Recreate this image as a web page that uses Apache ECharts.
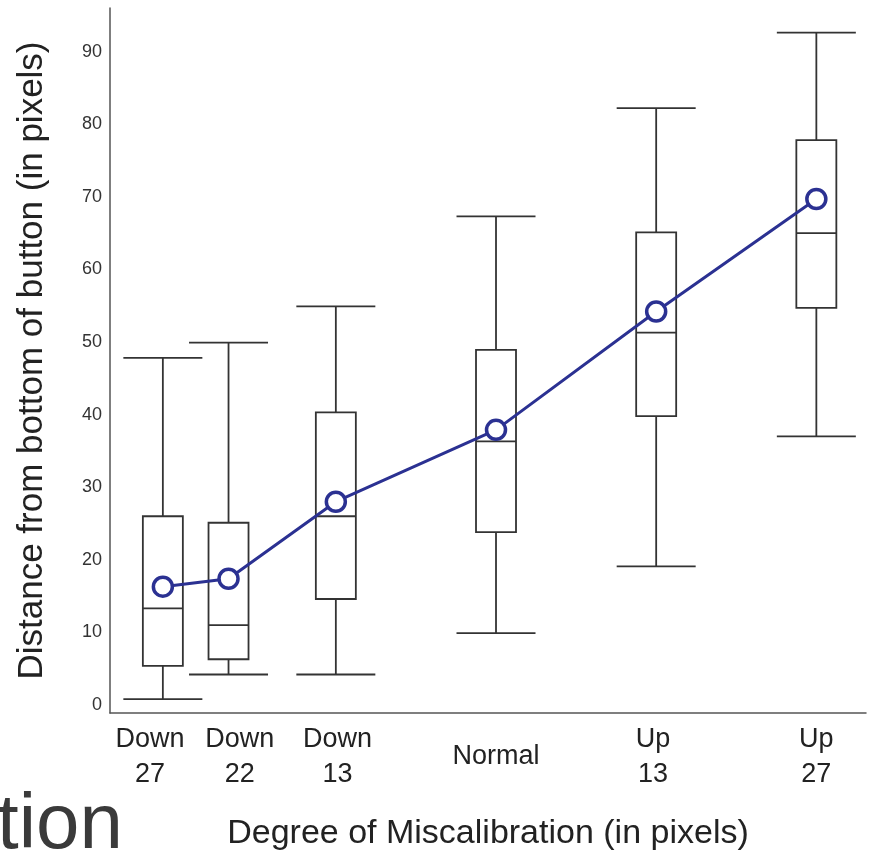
<!DOCTYPE html>
<html>
<head>
    <meta charset="UTF-8">
    <title>Miscalibration</title>
    <script src="https://cdn.jsdelivr.net/npm/echarts/dist/echarts.min.js"></script>
    <style>
        body { margin: 0; background: #fff; }
        #chart { width: 873px; height: 852px; }
    </style>
</head>
<body>
    <div id="chart"></div>
    <script>
        // categories, where each box sits and where its label sits on the x axis
        const categories = ['Down\n27', 'Down\n22', 'Down\n13', 'Normal', 'Up\n13', 'Up\n27'];
        const positions = [-2.08, -1.67, -1.0, 0, 1.0, 2.0];
        const labelPositions = [-2.16, -1.6, -0.99, 0, 0.98, 2.0];

        // box plot values
        const whiskerLow = [0.8, 4.2, 4.2, 9.9, 19.1, 37.0];
        const q1 = [5.4, 6.3, 14.6, 23.8, 39.8, 54.7];
        const median = [13.3, 11.0, 26.0, 36.3, 51.3, 65.0];
        const q3 = [26.0, 25.1, 40.3, 48.9, 65.1, 77.8];
        const whiskerHigh = [47.8, 49.9, 54.9, 67.3, 82.2, 92.6];
        const means = [16.3, 17.4, 28.0, 37.9, 54.2, 69.7];

        const yTicks = [0, 10, 20, 30, 40, 50, 60, 70, 80, 90];

        const boxData = positions.map((p, i) => [p, whiskerLow[i], q1[i], median[i], q3[i], whiskerHigh[i]]);
        const meanData = positions.map((p, i) => [p, means[i]]);

        const stroke = '#333';
        const boxHalf = 20;
        const capHalf = 39.5;

        function renderBox(params, api) {
            const x = api.value(0);
            const pLow = api.coord([x, api.value(1)]);
            const pQ1 = api.coord([x, api.value(2)]);
            const pMed = api.coord([x, api.value(3)]);
            const pQ3 = api.coord([x, api.value(4)]);
            const pHigh = api.coord([x, api.value(5)]);
            const cx = pLow[0];
            const ls = { stroke: stroke, lineWidth: 1.8 };
            return {
                type: 'group',
                children: [
                    { type: 'line', shape: { x1: cx, y1: pHigh[1], x2: cx, y2: pQ3[1] }, style: ls },
                    { type: 'line', shape: { x1: cx, y1: pQ1[1], x2: cx, y2: pLow[1] }, style: ls },
                    { type: 'line', shape: { x1: cx - capHalf, y1: pHigh[1], x2: cx + capHalf, y2: pHigh[1] }, style: ls },
                    { type: 'line', shape: { x1: cx - capHalf, y1: pLow[1], x2: cx + capHalf, y2: pLow[1] }, style: ls },
                    { type: 'rect', shape: { x: cx - boxHalf, y: pQ3[1], width: boxHalf * 2, height: pQ1[1] - pQ3[1] },
                      style: { fill: '#fff', stroke: stroke, lineWidth: 1.8 } },
                    { type: 'line', shape: { x1: cx - boxHalf, y1: pMed[1], x2: cx + boxHalf, y2: pMed[1] }, style: ls }
                ]
            };
        }

        function catLabel(value) {
            const i = labelPositions.findIndex(p => Math.abs(p - value) < 1e-6);
            if (i < 0) return '';
            const c = categories[i];
            return c.indexOf('\n') < 0 ? '{n|' + c + '}' : c;
        }

        const labelStyle = {
            formatter: catLabel,
            hideOverlap: false,
            showMinLabel: true,
            showMaxLabel: true,
            fontFamily: 'Liberation Sans',
            fontSize: 27,
            lineHeight: 35,
            color: '#222',
            margin: 9,
            rich: { n: { fontFamily: 'Liberation Sans', fontSize: 27, lineHeight: 70, color: '#222' } }
        };

        const chart = echarts.init(document.getElementById('chart'));
        chart.setOption({
            animation: false,
            grid: { left: 110, right: 7, top: 8, bottom: 139, outerBoundsMode: 'none' },
            xAxis: [{
                type: 'value',
                min: -2.41,
                max: 2.31,
                name: 'Degree of Miscalibration (in pixels)',
                nameLocation: 'middle',
                nameGap: 104,
                nameTextStyle: { fontFamily: 'Liberation Sans', fontSize: 34, color: '#222' },
                axisLine: { onZero: false, lineStyle: { color: '#555', width: 1.5 } },
                axisTick: { show: false },
                splitLine: { show: false },
                axisLabel: Object.assign({ customValues: labelPositions.filter((p, i) => i !== 1) }, labelStyle)
            }, {
                // second axis only carries the label the first one could drop as crowded
                type: 'value',
                position: 'bottom',
                min: -2.41,
                max: 2.31,
                axisLine: { show: false, onZero: false },
                axisTick: { show: false },
                splitLine: { show: false },
                axisLabel: Object.assign({ customValues: [labelPositions[1]] }, labelStyle)
            }],
            yAxis: {
                type: 'value',
                min: -1.1,
                max: 96,
                name: 'Distance from bottom of button (in pixels)',
                nameLocation: 'middle',
                nameGap: 60,
                nameTextStyle: { fontFamily: 'Liberation Sans', fontSize: 35, color: '#222' },
                axisLine: { show: true, onZero: false, lineStyle: { color: '#555', width: 1.5 } },
                axisTick: { show: false },
                splitLine: { show: false },
                axisLabel: {
                    customValues: yTicks,
                    fontFamily: 'Liberation Sans',
                    fontSize: 18,
                    color: '#333',
                    margin: 8
                }
            },
            graphic: [{
                type: 'text',
                left: -3,
                top: 787,
                style: { text: 'tion', font: '78px "Liberation Sans"', fill: '#3a3a3a' }
            }],
            series: [
                {
                    type: 'custom',
                    renderItem: renderBox,
                    encode: { x: 0, y: [1, 2, 3, 4, 5] },
                    data: boxData,
                    z: 2
                },
                {
                    type: 'line',
                    data: meanData,
                    symbol: 'circle',
                    symbolSize: 19,
                    lineStyle: { color: '#2b3192', width: 3 },
                    itemStyle: { color: '#fff', borderColor: '#2b3192', borderWidth: 3.5 },
                    z: 3
                }
            ]
        });
    </script>
</body>
</html>
